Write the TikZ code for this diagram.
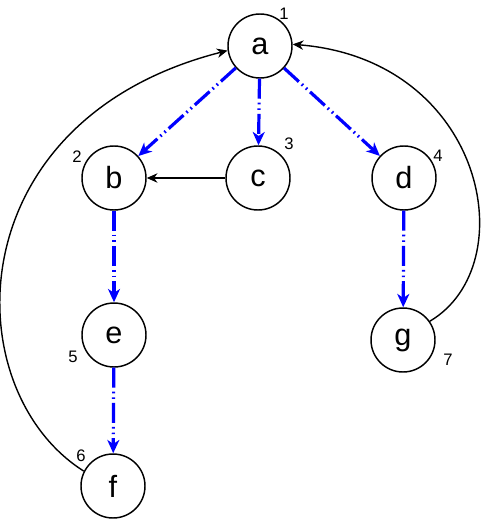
\documentclass[tikz,border=0pt]{standalone}
\usepackage{fontspec}
\setmainfont{Liberation Sans}
\usetikzlibrary{arrows.meta,positioning}

\tikzset{
    vertex/.style={draw, circle, line width=1.1pt, minimum size=48pt, inner sep=0pt, font=\fontsize{23}{23}\selectfont},
    order/.style={font=\fontsize{12.5}{12.5}\selectfont, inner sep=0pt},
    treeedge/.style={draw=blue, line width=2.4pt, dash pattern=on 15pt off 3pt on 1.2pt off 3pt on 1.2pt off 3pt, -{Stealth[length=10pt,width=9pt,inset=3pt]}},
    backedge/.style={draw, line width=1.05pt, -{Stealth[length=8pt,width=7pt,inset=2.5pt]}}
}

\begin{document}
\begin{tikzpicture}[x=0.75pt, y=-0.75pt]
    \useasboundingbox (0,0) rectangle (481,521);
    % vertices
    \node[vertex] (a) at (260,46) {a};
    \node[vertex] (b) at (114,178) {b};
    \node[vertex] (c) at (258,178) {c};
    \node[vertex] (d) at (404,178) {d};
    \node[vertex] (e) at (114,335) {e};
    \node[vertex] (g) at (403,340) {g};
    \node[vertex] (f) at (113,486) {f};

    % visit order
    \node[order] (n1) at (284,14) {1};
    \node[order] (n2) at (77,157) {2};
    \node[order] (n3) at (289,144) {3};
    \node[order] (n4) at (438,156) {4};
    \node[order] (n5) at (73,357) {5};
    \node[order] (n6) at (81,456) {6};
    \node[order] (n7) at (448,360) {7};

    % tree edges
    \draw[treeedge] (a) -- (b);
    \draw[treeedge] (a) -- (c);
    \draw[treeedge] (a) -- (d);
    \draw[treeedge] (b) -- (e);
    \draw[treeedge] (e) -- (f);
    \draw[treeedge] (d) -- (g);

    % other edges
    \draw[backedge] (c) -- (b);
    \draw[backedge] (f.153) .. controls (-45,390) and (-45,120) .. (a.188);
    \draw[backedge] (g.35) .. controls (525,265) and (485,60) .. (a.3);
\end{tikzpicture}
\end{document}
